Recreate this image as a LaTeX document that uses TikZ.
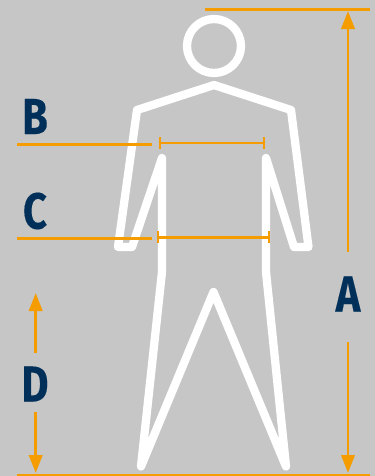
\documentclass[tikz,border=0pt]{standalone}
\usepackage{fontspec}
\setsansfont[BoldFeatures={FakeBold=0.3}]{Fira Sans}
\usetikzlibrary{arrows.meta}
\definecolor{bggray}{HTML}{C6C6C6}
\definecolor{dimorange}{HTML}{F59C00}
\definecolor{navy}{HTML}{00305A}
\tikzset{
  body/.style={draw=white,line width=6.2pt,line join=round,line cap=round},
  dimline/.style={draw=dimorange,line width=2.1pt},
  arrowline/.style={dimline,-{Triangle[length=13.5pt,width=10pt,fill=dimorange]}},
  tickline/.style={draw=dimorange,line width=1.8pt},
  letter/.style={text=navy,inner sep=0pt,font=\fontsize{38}{38}\selectfont\sffamily\bfseries}
}
\newcommand{\narrowletter}[1]{\scalebox{.82}[1]{#1}}
\begin{document}
\begin{tikzpicture}[x=.75pt,y=-.75pt]
\useasboundingbox[fill=bggray] (0,0) rectangle (375,476);
% figure
\draw[body] (214,46) circle (27);
\draw[body] (214,85) -- (137,110) -- (118,247) -- (132,247) -- (162,158) -- (162,272)
  -- (141,466.5) -- (213.5,292) -- (286,466.5) -- (266,272) -- (266,158) -- (294,247)
  -- (308.5,247) -- (291,110) -- cycle;
% reference lines
\coordinate (topL) at (205,9.5);
\coordinate (topR) at (370,9.5);
\coordinate (botL) at (17,475);
\coordinate (botR) at (370,475);
\draw[dimline] (topL) -- (topR);
\draw[dimline] (botL) -- (botR);
\coordinate (bL) at (17,144.4);
\coordinate (bR) at (152,144.4);
\coordinate (cL) at (17,238.4);
\coordinate (cR) at (152,238.4);
\draw[dimline] (bL) -- (bR);
\draw[dimline] (cL) -- (cR);
% measures
\coordinate (m1) at (160,143);
\coordinate (m2) at (264,143);
\coordinate (n1) at (158,237.4);
\coordinate (n2) at (269,237.4);
\draw[dimline] (m1) -- (m2);
\draw[dimline] (n1) -- (n2);
\draw[tickline] (160,137) -- (160,149);
\draw[tickline] (264,137) -- (264,149);
\draw[tickline] (158,231) -- (158,243);
\draw[tickline] (269,231) -- (269,243);
% letters
\node[letter] (A) at (348,294) {\narrowletter{A}};
\node[letter] (B) at (35,116.5) {\narrowletter{B}};
\node[letter] (C) at (35,211) {\narrowletter{C}};
\node[letter] (D) at (35,384) {\narrowletter{D}};
% arrows
\coordinate (a1) at (348,252);
\coordinate (a2) at (348,11);
\coordinate (a3) at (348,342);
\coordinate (a4) at (348,473);
\coordinate (d1) at (35.7,353);
\coordinate (d2) at (35.7,293);
\coordinate (d3) at (35.7,412);
\coordinate (d4) at (35.7,473);
\draw[arrowline] (a1) -- (a2);
\draw[arrowline] (a3) -- (a4);
\draw[arrowline] (d1) -- (d2);
\draw[arrowline] (d3) -- (d4);
\end{tikzpicture}
\end{document}
